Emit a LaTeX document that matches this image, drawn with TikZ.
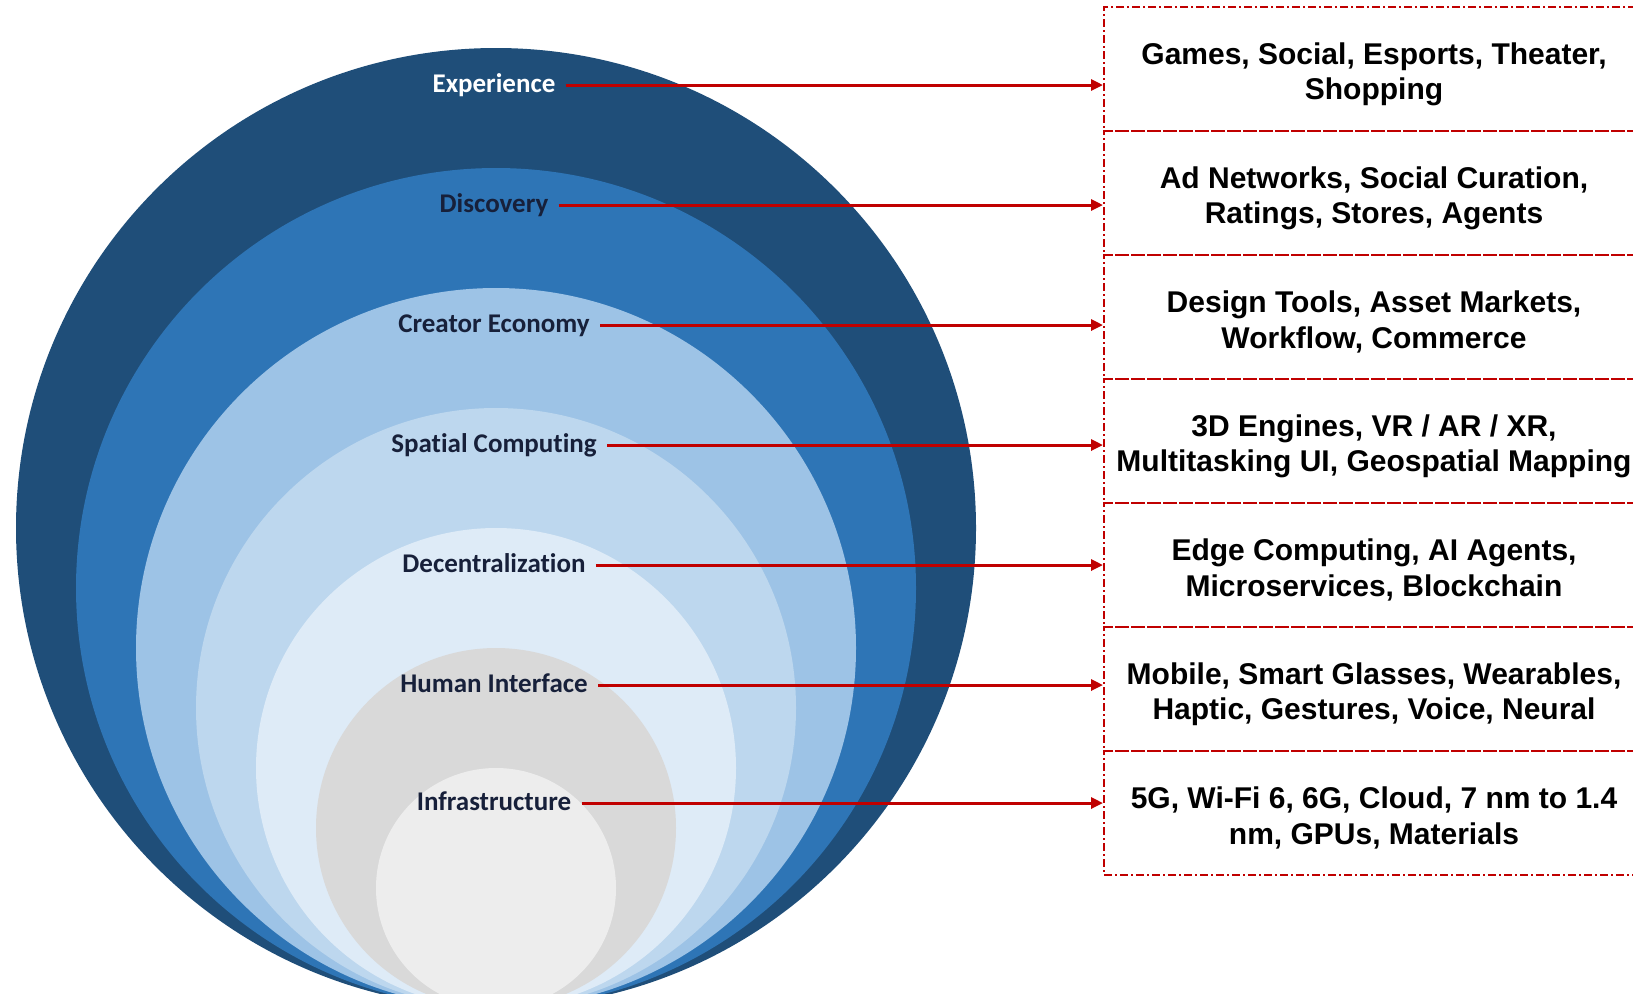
\documentclass[tikz,border=0pt]{standalone}
\usepackage{fontspec}
\setmainfont{Liberation Sans}
\newfontfamily\layerfont[Ligatures=NoCommon]{Carlito}
\usetikzlibrary{arrows.meta}
\definecolor{layerA}{HTML}{1F4E79}
\definecolor{layerB}{HTML}{2E75B6}
\definecolor{layerC}{HTML}{9DC3E6}
\definecolor{layerD}{HTML}{BDD7EE}
\definecolor{layerE}{HTML}{DEEBF7}
\definecolor{layerF}{HTML}{D9D9D9}
\definecolor{layerG}{HTML}{EDEDED}
\definecolor{linkred}{HTML}{C00000}
\definecolor{layerink}{HTML}{17203A}
\newcommand\LayerLabel[4]{
  \node[lab,#4] (#1) at (494,#2) {#3};
}

\begin{document}
\begin{tikzpicture}[x=0.5pt,y=-0.5pt,
  lab/.style={font=\layerfont\bfseries\fontsize{13.5}{15}\selectfont,text=layerink,inner sep=1pt,anchor=mid},
  frame/.style={draw=linkred,line width=1pt,dash pattern=on 4pt off 1.5pt on 1pt off 1.5pt,
    minimum width=270pt,minimum height=62pt,inner sep=0pt},
  info/.style={align=center,inner sep=0pt,font=\bfseries\fontsize{15}{17.7}\selectfont},
  link/.style={draw=linkred,line width=1.5pt,-{Triangle[length=6pt,width=5.5pt]}}]
\useasboundingbox (0,0) rectangle (1633,993);
\clip (0,0) rectangle (1633,993);
% layers, all touching at the bottom
\foreach \r/\c in {480/layerA,420/layerB,360/layerC,300/layerD,240/layerE,180/layerF,120/layerG}
  \fill[\c] (496,1008-\r) circle[radius=\r];
\LayerLabel{lab1}{87}{Experience}{text=white}
\LayerLabel{lab2}{207}{Discovery}{}
\LayerLabel{lab3}{327}{Creator Economy}{}
\LayerLabel{lab4}{447}{Spatial Computing}{}
\LayerLabel{lab5}{567}{Decentralization}{}
\LayerLabel{lab6}{687}{Human Interface}{}
\LayerLabel{lab7}{805}{Infrastructure}{}
% boxes on the right
\foreach \i in {1,...,7}
  \node[frame] (box\i) at (1374,{69+124*(\i-1)}) {};
\node[info] (txt1) at (1374,74) {Games, Social, Esports, Theater,\\Shopping};
\node[info] (txt2) at (1374,198) {Ad Networks, Social Curation,\\Ratings, Stores, Agents};
\node[info] (txt3) at (1374,322) {Design Tools, Asset Markets,\\Workflow, Commerce};
\node[info] (txt4) at (1374,446) {3D Engines, VR / AR / XR,\\Multitasking UI, Geospatial Mapping};
\node[info] (txt5) at (1374,570) {Edge Computing, AI Agents,\\Microservices, Blockchain};
\node[info] (txt6) at (1374,694) {Mobile, Smart Glasses, Wearables,\\Haptic, Gestures, Voice, Neural};
\node[info] (txt7) at (1374,818) {5G, Wi-Fi 6, 6G, Cloud, 7 nm to 1.4\\nm, GPUs, Materials};
\foreach \i in {1,...,7}
  \draw[link] ([xshift=4pt,yshift=1pt]lab\i.mid east) -- ([yshift=1pt]lab\i.mid east -| box\i.west);
\end{tikzpicture}
\end{document}
